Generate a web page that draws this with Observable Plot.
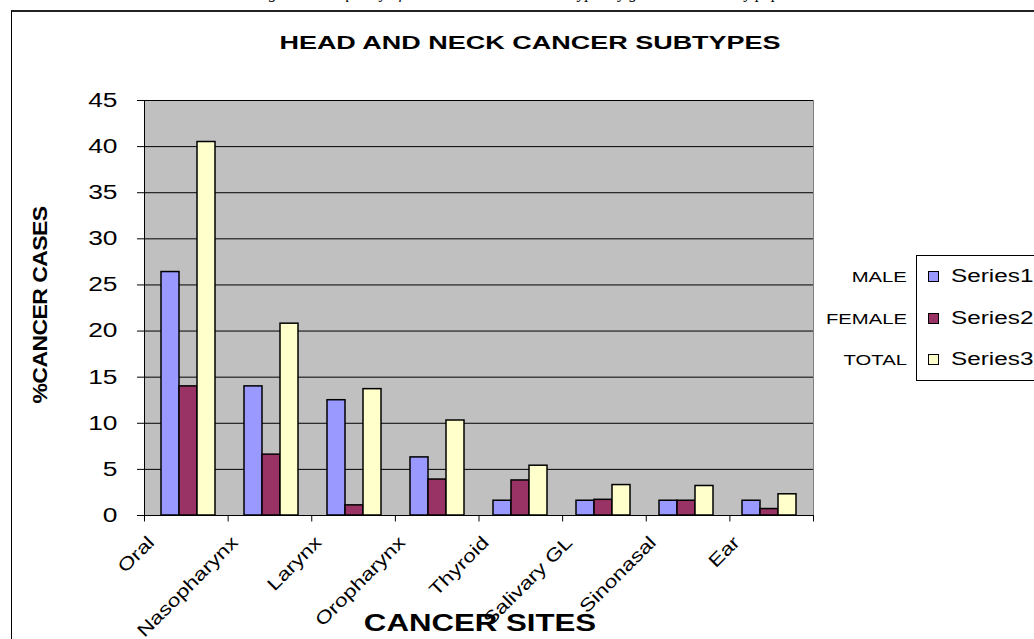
<!DOCTYPE html>
<html><head><meta charset="utf-8">
<script src="https://cdn.jsdelivr.net/npm/d3@7"></script>
<script src="https://cdn.jsdelivr.net/npm/@observablehq/plot@0.6"></script>
<style>
html,body{margin:0;padding:0;background:#fff;}
body{width:1034px;height:639px;overflow:hidden;position:relative;font-family:"Liberation Sans",Arial,sans-serif;color:#000;}
#frame{position:absolute;left:11px;top:10px;width:1100px;height:700px;border-top:2px solid #222;border-left:1px solid #000;box-sizing:border-box;}
.layer{position:absolute;left:0;top:0;}
.ov{position:absolute;white-space:nowrap;line-height:1;}
#legend{position:absolute;left:916px;top:255px;width:150px;height:126px;border:1px solid #000;background:#fff;box-sizing:border-box;}
.sw{position:absolute;width:9px;height:9px;border:1px solid #000;}
</style></head><body>
<div class="ov" id="caption" style="left:540px;top:-15px;transform:translateX(-50%);font-family:'Liberation Serif',serif;font-style:italic;font-size:16px;">Figure 1: Frequency of head and neck cancer subtypes by gender in the study population</div>
<div id="frame"></div>
<div id="l1" class="layer"></div>
<div id="l2" class="layer"></div>
<div class="ov" id="title" style="font-weight:bold;font-size:19px;"></div>
<div class="ov" id="xlab" style="font-weight:bold;font-size:24px;"></div>
<div class="ov" id="ylab" style="font-weight:bold;font-size:20px;letter-spacing:-0.5px;"></div>
<div id="legend"></div>
<script>
// ---- data ----
const categories = ["Oral","Nasopharynx","Larynx","Oropharynx","Thyroid","Salivary GL","Sinonasal","Ear"];
const seriesNames = ["Series1","Series2","Series3"];
const seriesLabels = ["MALE","FEMALE","TOTAL"];
const series1 = [26.4, 14.0, 12.5, 6.3, 1.6, 1.6, 1.6, 1.6];
const series2 = [14.0, 6.6, 1.1, 3.9, 3.8, 1.7, 1.6, 0.7];
const series3 = [40.5, 20.8, 13.7, 10.3, 5.4, 3.3, 3.2, 2.3];
const yTicks = [0,5,10,15,20,25,30,35,40,45];
const colors = ["#9999FF","#993366","#FFFFCC"];
const titleText = "HEAD AND NECK CANCER SUBTYPES";
const xTitle = "CANCER SITES";
const yTitle = "%CANCER CASES";

const rows = [];
[series1, series2, series3].forEach((vals, s) => vals.forEach((v, i) => rows.push({cat: categories[i], series: seriesNames[s], value: v})));

const W = 1034, H = 639;
const M = {left: 144, right: 221, top: 100, bottom: 124};
const n = categories.length;

// layer 1: background, grid, axes, labels
const l1 = Plot.plot({
  width: W, height: H,
  marginLeft: M.left, marginRight: M.right, marginTop: M.top, marginBottom: M.bottom,
  style: {background: "transparent", fontFamily: "'Liberation Sans', Arial, sans-serif", overflow: "visible", color: "#000"},
  x: {domain: [0, n], axis: null},
  y: {domain: [0, 45], axis: null},
  marks: [
    Plot.frame({fill: "#c0c0c0", stroke: "#808080"}),
    Plot.ruleY(yTicks.filter(v => v > 0), {stroke: "#000", strokeWidth: 1}),
    Plot.ruleY([0], {stroke: "#000", strokeWidth: 1}),
    Plot.ruleX([0], {stroke: "#000", strokeWidth: 1}),
    Plot.ruleX(d3.range(n + 1), {x: d => d, y1: 0, y2: -0.7, stroke: "#000"}),
    Plot.axisY({ticks: yTicks, tickSize: 7, tickPadding: 20, fontSize: 20, label: null, anchor: "left"}),
    Plot.text(categories, {x: (d, i) => i + 0.5, text: d => d, frameAnchor: "bottom", rotate: -45, textAnchor: "end", lineAnchor: "middle", fontSize: 18, dx: -35, dy: 24})
  ]
});
document.getElementById("l1").appendChild(l1);

// layer 2: grouped bars
const l2 = Plot.plot({
  width: W, height: H,
  marginLeft: M.left, marginRight: M.right, marginTop: M.top, marginBottom: M.bottom,
  style: {background: "transparent", overflow: "visible"},
  fx: {domain: categories, paddingInner: 0.33, paddingOuter: 0.165, axis: null, label: null},
  x: {domain: seriesNames, padding: 0, axis: null},
  y: {domain: [0, 45], axis: null},
  color: {domain: seriesNames, range: colors},
  marks: [
    Plot.barY(rows, {fx: "cat", x: "series", y: "value", fill: "series", stroke: "#000", strokeWidth: 1.5})
  ]
});
document.getElementById("l2").appendChild(l2);

// stretch texts along their own baseline to match the reference rendering
function stretch(root, sH, sR) {
  root.querySelectorAll("text").forEach(t => {
    const tr = t.getAttribute("transform") || "";
    const m = tr.match(/translate\(\s*([-\d.e]+)[\s,]+([-\d.e]+)\s*\)/);
    if (m && /rotate/.test(tr)) {
      t.setAttribute("transform", tr + ` scale(${sR},1)`);
      return;
    }
    let ax, ay;
    if (m) { ax = +m[1]; ay = +m[2]; } else { ax = +(t.getAttribute("x") || 0); ay = +(t.getAttribute("y") || 0); }
    t.setAttribute("transform", `translate(${ax},${ay}) scale(${sH},1) translate(${-ax},${-ay}) ${tr}`);
  });
}
stretch(l1, 1.32, 1.26);

// overlays
function place(id, text, x, y, tf) {
  const el = document.getElementById(id);
  el.textContent = text;
  el.style.left = x + "px"; el.style.top = y + "px";
  el.style.transform = tf;
}
place("title", titleText, 530, 42, "translate(-50%,-50%) scaleX(1.42)");
place("xlab", xTitle, 480, 623, "translate(-50%,-50%) scaleX(1.3)");
place("ylab", yTitle, 40, 305, "translate(-50%,-50%) rotate(-90deg) scaleX(1.15)");

const legend = document.getElementById("legend");
const rowY = [276, 318, 359];
seriesNames.forEach((s, i) => {
  const sw = document.createElement("div");
  sw.className = "sw";
  sw.style.left = (927 - 916) + "px";
  sw.style.top = (rowY[i] - 255 - 6) + "px";
  sw.style.background = colors[i];
  legend.appendChild(sw);
  const tx = document.createElement("div");
  tx.className = "ov";
  tx.textContent = s;
  tx.style.cssText += `left:${950-916}px;top:${rowY[i]-255-1}px;font-size:18px;transform:translateY(-50%) scaleX(1.35);transform-origin:left center;`;
  legend.appendChild(tx);
  const lab = document.createElement("div");
  lab.className = "ov";
  lab.textContent = seriesLabels[i];
  lab.style.cssText += `right:${W - 907}px;top:${rowY[i]}px;font-size:15px;transform:translateY(-50%) scaleX(1.35);transform-origin:right center;`;
  document.body.appendChild(lab);
});
</script>
</body></html>
